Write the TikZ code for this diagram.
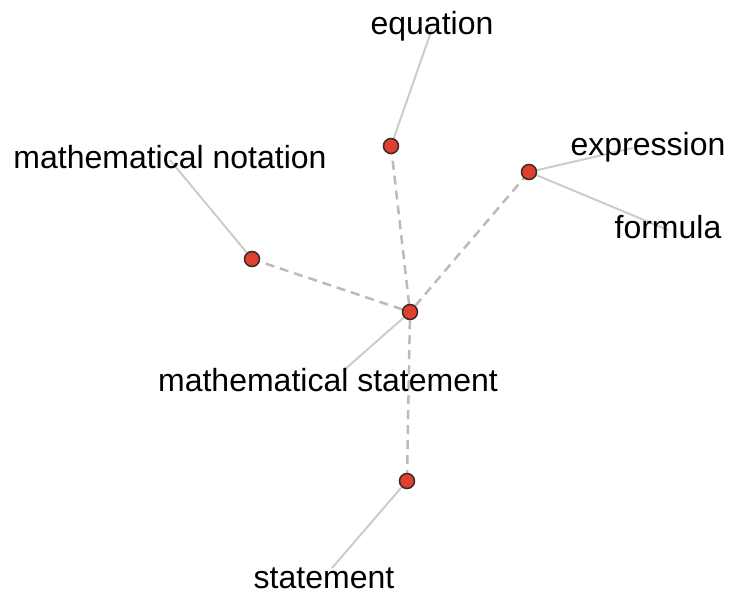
\documentclass[tikz,border=0pt]{standalone}
\usepackage{fontspec}
\setmainfont{Liberation Sans}
\usetikzlibrary{backgrounds}
\definecolor{dotred}{HTML}{E0402E}
\definecolor{dotedge}{HTML}{3A2A28}
\definecolor{dashgray}{HTML}{BBBBBB}
\definecolor{leadgray}{HTML}{CCCCCC}
\tikzset{
  dotnode/.style={circle, fill=dotred, draw=dotedge, line width=1.5pt, minimum size=15pt, inner sep=0pt},
  lbl/.style={anchor=base, inner sep=0pt, font=\fontsize{32}{36}\selectfont, text=black},
  linkline/.style={draw=dashgray, line width=2.5pt, dash pattern=on 9pt off 6pt},
  leadline/.style={draw=leadgray, line width=2pt}
}
\begin{document}
\begin{tikzpicture}[x=1pt, y=-1pt]
\useasboundingbox (0,0) rectangle (729,594);
% dots
\node[dotnode] (c) at (410,312) {};
\node[dotnode] (eq) at (391,146) {};
\node[dotnode] (ex) at (529,172) {};
\node[dotnode] (no) at (252,259) {};
\node[dotnode] (st) at (407,481) {};
% labels
\node[lbl] (Leq) at (432,35) {equation};
\node[lbl] (Lno) at (170,168) {mathematical notation};
\node[lbl] (Lex) at (648,155) {expression};
\node[lbl] (Lfo) at (668,238) {formula};
\node[lbl] (Lc) at (328,391) {mathematical statement};
\node[lbl] (Lst) at (324,588) {statement};
% lines behind
\begin{scope}[on background layer]
\path[leadline] (eq) -- ([yshift=6pt]Leq.base);
\path[leadline] (no) -- ([yshift=8pt]Lno.base);
\path[leadline] (ex) -- ([xshift=-15pt,yshift=7pt]Lex.base);
\path[leadline] (ex) -- ([yshift=8pt]Lfo.base);
\path[leadline] (c) -- ([xshift=15pt,yshift=20pt]Lc.base);
\path[leadline] (st) -- ([xshift=8pt,yshift=20pt]Lst.base);
\path[linkline] (c) -- (eq);
\path[linkline] (c) -- (ex);
\path[linkline] (c) -- (no);
\path[linkline] (c) -- (st);
\end{scope}
\end{tikzpicture}
\end{document}
